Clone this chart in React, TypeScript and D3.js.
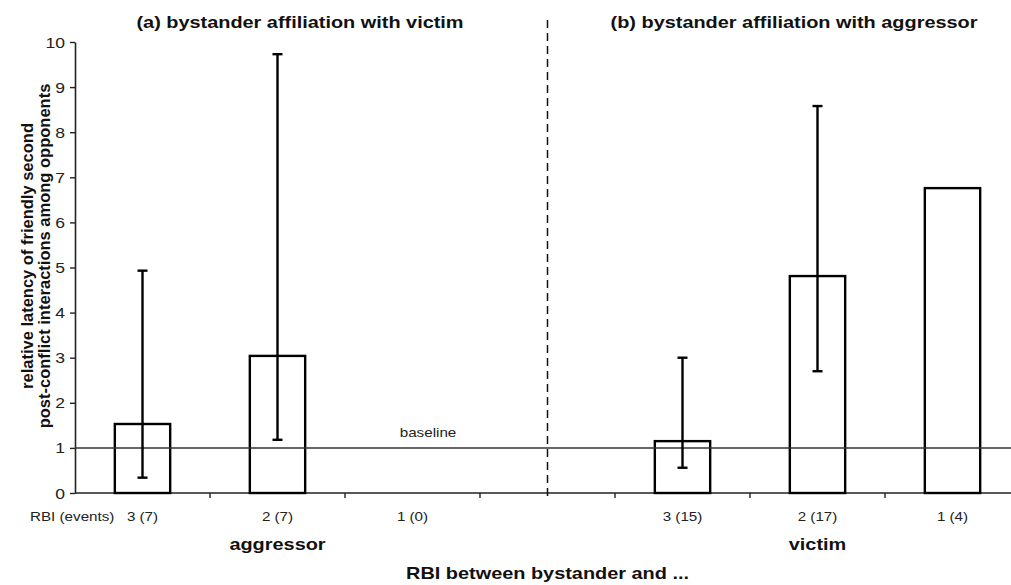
import * as d3 from "d3";
import React, { useEffect, useRef } from "react";

// categories along the x axis (the empty one is the gap between panels)
const categories = ["a3", "a2", "a1", "gap", "b3", "b2", "b1"];
const tickLabels = ["3 (7)", "2 (7)", "1 (0)", "", "3 (15)", "2 (17)", "1 (4)"];
const means: (number | null)[] = [1.53, 3.04, null, null, 1.15, 4.81, 6.76];
const lowerErr: (number | null)[] = [0.34, 1.18, null, null, 0.56, 2.7, null];
const upperErr: (number | null)[] = [4.93, 9.73, null, null, 3.0, 8.58, null];
const yTicks = [0, 1, 2, 3, 4, 5, 6, 7, 8, 9, 10];
const baselineValue = 1;

const width = 1011;
const height = 585;
const font = "'Liberation Sans', Arial, sans-serif";
const stretch = 1.17; // the original scan is a bit wider than tall

type Sel = d3.Selection<SVGSVGElement | null, unknown, null, undefined>;

const addText = (
  svg: Sel,
  x: number,
  y: number,
  txt: string,
  size: number,
  bold = false,
  anchor = "middle"
) => {
  svg
    .append("g")
    .attr("transform", `translate(${x},${y})`)
    .append("text")
    .attr("transform", `scale(${stretch},1)`)
    .attr("text-anchor", anchor)
    .attr("fill", bold ? "#111" : "#222")
    .style("font", `${bold ? "bold " : ""}${size}px ${font}`)
    .text(txt);
};

const App: React.FC = () => {
  const svgRef = useRef<SVGSVGElement | null>(null);

  useEffect(() => {
    const svg = d3.select(svgRef.current);
    svg.selectAll("*").remove();

    const left = 75;
    const x = d3.scaleBand<string>().domain(categories).range([left, 1020]).padding(0);
    const y = d3.scaleLinear().domain([0, 10]).range([493, 42]);
    const barW = x.bandwidth() * 0.41;
    const cx = (i: number) => (x(categories[i]) as number) + x.bandwidth() / 2;

    // titles
    addText(svg, 300, 28, "(a) bystander affiliation with victim", 17, true);
    addText(svg, 794, 28, "(b) bystander affiliation with aggressor", 17, true);

    // y axis
    const yAxis = svg
      .append("g")
      .attr("transform", `translate(${left},0)`)
      .call(d3.axisLeft(y).tickValues(yTicks).tickSize(5).tickSizeOuter(0).tickFormat(() => ""));
    yAxis.select(".domain").attr("stroke", "#222").attr("stroke-width", 1.6);
    yAxis.selectAll(".tick line").attr("stroke", "#222").attr("stroke-width", 1.4);
    yTicks.forEach((t) => addText(svg, 65, y(t) + 5.5, String(t), 15, false, "end"));

    // y axis title
    const yTitle = svg
      .append("text")
      .attr("transform", "translate(0,256) rotate(-90)")
      .attr("text-anchor", "middle")
      .style("font", `bold 16.5px ${font}`)
      .attr("fill", "#111");
    yTitle.append("tspan").attr("x", 0).attr("y", 33).text("relative latency of friendly second");
    yTitle.append("tspan").attr("x", 0).attr("y", 50).text("post-conflict interactions among opponents");

    // x axis line + ticks at band boundaries
    svg
      .append("line")
      .attr("x1", left)
      .attr("x2", width)
      .attr("y1", y(0))
      .attr("y2", y(0))
      .attr("stroke", "#222")
      .attr("stroke-width", 1.6);
    svg
      .append("g")
      .selectAll("line")
      .data(categories.slice(1))
      .enter()
      .append("line")
      .attr("x1", (d) => x(d) as number)
      .attr("x2", (d) => x(d) as number)
      .attr("y1", y(0))
      .attr("y2", y(0) + 5)
      .attr("stroke", "#222")
      .attr("stroke-width", 1.4);

    // tick labels
    tickLabels.forEach((d, i) => addText(svg, cx(i), 521, d, 13));
    addText(svg, 30, 521, "RBI (events)", 13, false, "start");

    addText(svg, cx(1), 550, "aggressor", 17, true);
    addText(svg, cx(5), 550, "victim", 17, true);
    addText(svg, cx(3), 579, "RBI between bystander and ...", 17, true);

    // dashed divider
    svg
      .append("line")
      .attr("x1", cx(3))
      .attr("x2", cx(3))
      .attr("y1", 20)
      .attr("y2", y(0) + 3)
      .attr("stroke", "#111")
      .attr("stroke-width", 1.5)
      .attr("stroke-dasharray", "8,5");

    // bars
    const idx = means.map((_m, i) => i).filter((i) => means[i] !== null);
    svg
      .append("g")
      .selectAll("rect")
      .data(idx)
      .enter()
      .append("rect")
      .attr("x", (i) => cx(i) - barW / 2)
      .attr("y", (i) => y(means[i] as number))
      .attr("width", barW)
      .attr("height", (i) => y(0) - y(means[i] as number))
      .attr("fill", "none")
      .attr("stroke", "#000")
      .attr("stroke-width", 2.4);

    // baseline
    svg
      .append("line")
      .attr("x1", left)
      .attr("x2", width)
      .attr("y1", y(baselineValue))
      .attr("y2", y(baselineValue))
      .attr("stroke", "#333")
      .attr("stroke-width", 1.5);
    addText(svg, 428, 437, "baseline", 13);

    // error bars
    const errIdx = idx.filter((i) => lowerErr[i] !== null);
    const eg = svg.append("g").attr("stroke", "#000").attr("stroke-width", 2.4);
    errIdx.forEach((i) => {
      const lo = y(lowerErr[i] as number);
      const hi = y(upperErr[i] as number);
      eg.append("line").attr("x1", cx(i)).attr("x2", cx(i)).attr("y1", lo).attr("y2", hi);
      eg.append("line").attr("x1", cx(i) - 5).attr("x2", cx(i) + 5).attr("y1", lo).attr("y2", lo);
      eg.append("line").attr("x1", cx(i) - 5).attr("x2", cx(i) + 5).attr("y1", hi).attr("y2", hi);
    });
  }, []);

  return (
    <svg
      ref={svgRef}
      width={width}
      height={height}
      style={{ position: "absolute", left: 0, top: 0, background: "#fff" }}
    ></svg>
  );
};

export default App;
